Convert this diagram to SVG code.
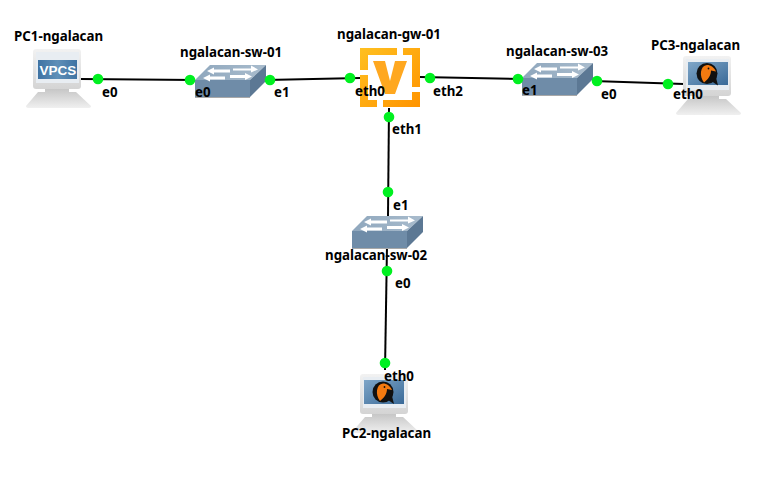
<svg xmlns="http://www.w3.org/2000/svg" width="760" height="492" viewBox="0 0 760 492">
<style>
text{font-family:"Noto Sans","DejaVu Sans",sans-serif;font-weight:700;font-size:13.3px;fill:#000}
.v{font-family:"Liberation Sans",Arial,sans-serif;font-size:13.5px;fill:#fff}
.l{stroke:#000;stroke-width:2;fill:none}
.d{fill:#00f020}
</style>
<defs>
<linearGradient id="mon" x1="0" y1="0" x2="0" y2="1"><stop offset="0" stop-color="#f2f2f2"/><stop offset="1" stop-color="#d4d4d4"/></linearGradient>
<linearGradient id="base" x1="0" y1="0" x2="0" y2="1"><stop offset="0" stop-color="#c4c4c4"/><stop offset="1" stop-color="#f0f0f0"/></linearGradient>
<linearGradient id="scr" x1="0" y1="0" x2="1" y2="0"><stop offset="0" stop-color="#3f73a3"/><stop offset="0.5" stop-color="#5f8fb8"/><stop offset="1" stop-color="#3f73a3"/></linearGradient>
<linearGradient id="qs" x1="0" y1="0" x2="1" y2="1"><stop offset="0" stop-color="#7fa6c8"/><stop offset="1" stop-color="#3a6a98"/></linearGradient>
<linearGradient id="org" x1="0" y1="0" x2="1" y2="1"><stop offset="0" stop-color="#ffc020"/><stop offset="1" stop-color="#ff9400"/></linearGradient>
<linearGradient id="top" x1="0" y1="0" x2="1" y2="0"><stop offset="0" stop-color="#8fa7bd"/><stop offset="1" stop-color="#a9bccd"/></linearGradient>
<g id="pc">
<path d="M45 88H69V92H76L91 106Q91 108 88 108H29Q26 108 26 106L38 92H45z" fill="url(#base)"/>
<rect x="33" y="49" width="48" height="40" rx="3" fill="url(#mon)"/>
<rect x="36" y="52" width="43" height="31" fill="#e8edf2"/>
</g>
<g id="sw">
<path d="M0 15L15 0H71L55 15z" fill="url(#top)"/>
<path d="M0 15H55V32H0z" fill="#6f8ca8"/>
<path d="M55 15L71 0V16L55 32z" fill="#5c7894"/>
<path d="M0 32H55V33H0z" fill="#a8a8a8"/>
<path d="M12 6L19 2.500V4.500H35V7.500H19V9.500zM38 3.500H56V0.500L63 4.500L56 7.500V5.500H38zM8 13L15 9.500V11.500H30V14.500H15V16.500zM35 10H50V8L57 11.500L50 15V13H35z" fill="#fff"/>
</g>
<g id="qemu">
<circle cx="0" cy="0" r="10.500" fill="#111"/>
<path d="M5 8L11 12L9 4z" fill="#111"/>
<path d="M-3 9C-8 3-7-8 0-8.500C4-8.500 7-6 9-2L4-3C4 2 1 6-3 9z" fill="#f47a10"/>
<circle cx="1.500" cy="-5" r="0.900" fill="#111"/>
</g>
</defs>
<g id="connectors">
<path class="l" d="M81 79L195 80"/>
<path class="l" d="M266 80L360 78"/>
<path class="l" d="M420 77L522 79"/>
<path class="l" d="M593 81L684 84"/>
<path class="l" d="M389 108L388 216"/>
<path class="l" d="M387 246L385 370"/>
</g>
<g id="PC1-ngalacan">
<use href="#pc"/>
<rect x="38" y="60" width="39" height="19" fill="url(#scr)"/>
<text class="v" x="39.500" y="74.500">VPCS</text>
<text x="14" y="41">PC1-ngalacan</text>
</g>
<g id="ngalacan-sw-01">
<use href="#sw" x="195" y="65"/>
<text x="180" y="57">ngalacan-sw-01</text>
</g>
<g id="ngalacan-gw-01">
<path d="M360 48H397V55H368V70H360zM403 48H420V87H412V55H403zM377 107H360V75H368V100H377zM383 100H412V92H420V107H383z" fill="url(#org)"/>
<path d="M373 61H385L390 81L395 61H407L395 94H385z" fill="#ffa820"/>
<text x="337" y="39">ngalacan-gw-01</text>
</g>
<g id="ngalacan-sw-03">
<use href="#sw" x="522" y="63"/>
<text x="506" y="56">ngalacan-sw-03</text>
</g>
<g id="PC3-ngalacan">
<use href="#pc" x="650" y="7"/>
<rect x="688" y="62" width="40" height="23" fill="url(#qs)"/>
<use href="#qemu" x="707" y="73.500"/>
<text x="651" y="50">PC3-ngalacan</text>
</g>
<g id="ngalacan-sw-02">
<use href="#sw" x="352" y="216"/>
<text x="325" y="260">ngalacan-sw-02</text>
</g>
<g id="PC2-ngalacan">
<use href="#pc" x="327" y="325"/>
<rect x="364" y="380" width="40" height="24" fill="url(#qs)"/>
<use href="#qemu" x="383" y="392"/>
<text x="342" y="438">PC2-ngalacan</text>
</g>
<g id="ports">
<circle class="d" cx="98" cy="79" r="5.300"/><circle class="d" cx="190" cy="80" r="5.300"/>
<circle class="d" cx="270" cy="80" r="5.300"/><circle class="d" cx="350" cy="78" r="5.300"/>
<circle class="d" cx="430" cy="78" r="5.300"/><circle class="d" cx="518" cy="79" r="5.300"/>
<circle class="d" cx="597" cy="81" r="5.300"/><circle class="d" cx="668" cy="84" r="5.300"/>
<circle class="d" cx="389" cy="117" r="5.300"/><circle class="d" cx="388" cy="192" r="5.300"/>
<circle class="d" cx="387" cy="271" r="5.300"/><circle class="d" cx="385" cy="363" r="5.300"/>
<text x="102" y="97">e0</text><text x="195" y="97">e0</text>
<text x="274" y="97">e1</text><text x="355" y="96">eth0</text>
<text x="433" y="96">eth2</text><text x="522" y="95">e1</text>
<text x="601" y="99">e0</text><text x="673" y="99">eth0</text>
<text x="392" y="134">eth1</text><text x="393" y="210">e1</text>
<text x="395" y="288">e0</text><text x="384" y="381">eth0</text>
</g>
</svg>
